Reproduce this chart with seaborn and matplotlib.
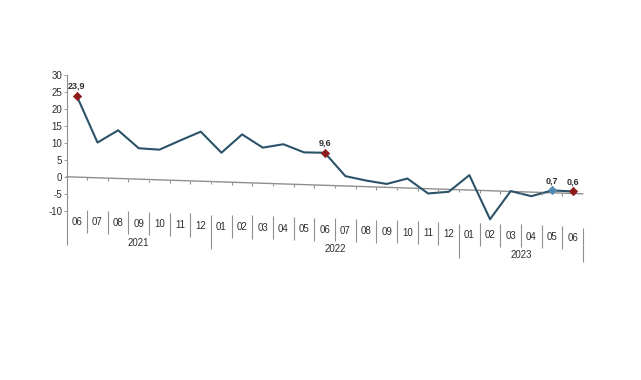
import numpy as np
import pandas as pd
import matplotlib
matplotlib.use("Agg")
import matplotlib.pyplot as plt
import matplotlib.transforms as mtransforms
import seaborn as sns

# ---------------- data ----------------
months = ["06", "07", "08", "09", "10", "11", "12",
          "01", "02", "03", "04", "05", "06", "07", "08", "09", "10", "11", "12",
          "01", "02", "03", "04", "05", "06"]
years = ["2021", "2022", "2023"]
year_months = [7, 12, 6]
values = [23.9, 10.4, 14.2, 9.1, 8.9, 11.8, 14.6,
          8.6, 14.2, 10.5, 11.7, 9.5, 9.6, 2.9, 1.8, 1.0, 2.8, -1.4, -0.7,
          4.4, -8.4, 0.1, -1.2, 0.7, 0.6]
red_idx = [0, 12, 24]
red_labels = ["23,9", "9,6", "0,6"]
blue_idx = [23]
blue_labels = ["0,7"]
y_ticks = [30, 25, 20, 15, 10, 5, 0, -5, -10]

# ---------------- style ----------------
sns.set_theme(style="white")
plt.rcParams["font.family"] = ["Liberation Sans Narrow", "Liberation Sans", "DejaVu Sans"]

W, H = 641, 380
fig = plt.figure(figsize=(W / 100, H / 100), dpi=100)
fig.patch.set_facecolor("white")
ax_left, ax_right, ax_top, ax_bottom = 66.5, 583.0, 75.0, 210.7
ax = fig.add_axes([ax_left / W, 1 - ax_bottom / H, (ax_right - ax_left) / W, (ax_bottom - ax_top) / H])
ax.set_facecolor("white")

line_color = "#2b5269"
red = "#8e1b1b"
blue = "#4f88b3"
text_color = "#2e2e2e"
grey = "#8f8f8f"

# slight tilt of the reference picture (right side lower)
k = 0.033
shear = mtransforms.Affine2D.from_values(1, -k, 0, 1, 0, k * ax_left)

df = pd.DataFrame({"x": np.arange(len(values)), "value": values, "month": months})

sns.lineplot(data=df, x="x", y="value", ax=ax, color=line_color, linewidth=1.5)
for ln in ax.lines:
    ln.set_transform(ax.transData + shear)
    ln.set_clip_on(False)

n_before = len(ax.collections)
sns.scatterplot(data=df.iloc[red_idx], x="x", y="value", ax=ax, color=red,
                marker="D", s=18, edgecolor=red, linewidth=0.5, zorder=4)
sns.scatterplot(data=df.iloc[blue_idx], x="x", y="value", ax=ax, color=blue,
                marker="D", s=18, edgecolor=blue, linewidth=0.5, zorder=4)
for coll in ax.collections[n_before:]:
    coll.set_offset_transform(ax.transData + shear)
    coll.set_clip_on(False)

# value labels
for idx, lab in list(zip(red_idx, red_labels)) + list(zip(blue_idx, blue_labels)):
    ax.annotate(lab, (idx, values[idx]), xycoords=ax.transData + shear,
                xytext=(0, 7), textcoords="offset points", ha="center", va="center",
                fontsize=6.5, fontweight="bold", color=text_color, annotation_clip=False)

n = len(values)
ax.set_xlim(-0.5, n - 0.5)
ax.set_ylim(-10, 30)

# zero axis line with ticks at category boundaries
zl = ax.axhline(0, color=grey, linewidth=1.0, zorder=1)
zl.set_transform(ax.get_yaxis_transform() + shear)
zl.set_clip_on(False)
bounds = np.arange(n - 1) + 0.5
ax.vlines(bounds, 0, -0.8, transform=ax.transData + shear, colors=grey,
          linewidth=0.8, clip_on=False)

# y axis
ax.set_yticks(y_ticks)
ax.set_yticklabels([str(t) for t in y_ticks], fontsize=7, color=text_color)
ax.tick_params(axis="y", length=2, width=0.6, pad=1, colors=grey, labelcolor=text_color, left=True)
ax.set_xticks([])
for s in ["top", "right", "bottom"]:
    ax.spines[s].set_visible(False)
ax.spines["left"].set_color(grey)
ax.spines["left"].set_linewidth(0.8)
ax.set_xlabel("")
ax.set_ylabel("")

# multi-level category labels
xt = ax.get_xaxis_transform() + shear
for i, m in enumerate(months):
    ax.text(i, -0.079, m, transform=xt, ha="center", va="center",
            fontsize=7, color=text_color, clip_on=False)

edges = np.concatenate([[0], np.cumsum(year_months)]) - 0.5
long_b = list(edges)
short_b = [b for b in np.arange(-0.5, n, 1.0) if b not in long_b]
ax.vlines(short_b, 0.01, -0.16, transform=xt, colors=grey, linewidth=0.8, clip_on=False)
ax.vlines(long_b, 0.0, -0.25, transform=xt, colors=grey, linewidth=0.8, clip_on=False)
for j, y in enumerate(years):
    c = (edges[j] + edges[j + 1]) / 2
    ax.text(c, -0.217, y, transform=xt, ha="center", va="center",
            fontsize=7, color=text_color, clip_on=False)

fig.savefig("out.png", dpi=100, facecolor="white")
